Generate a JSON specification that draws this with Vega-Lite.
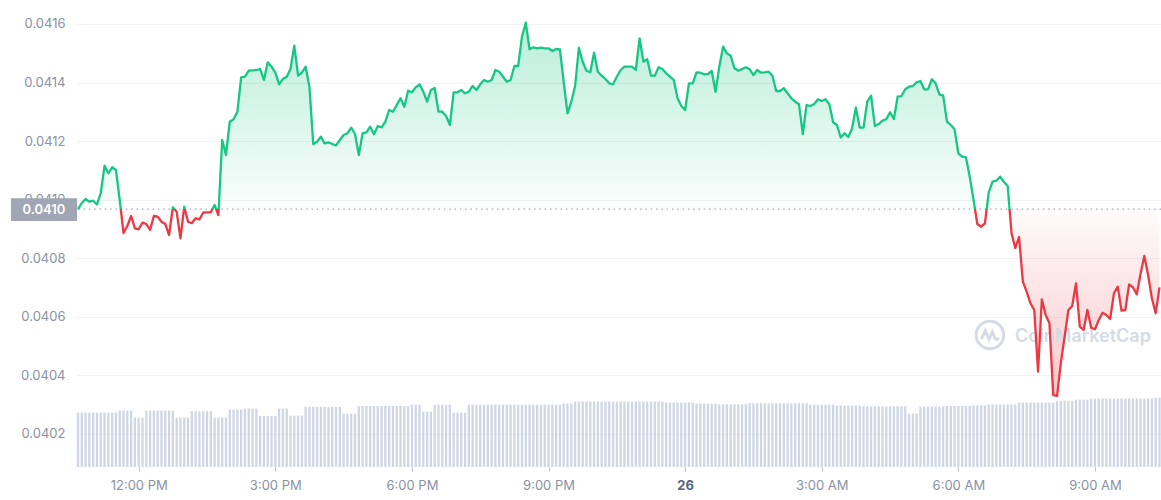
{
  "$schema": "https://vega.github.io/schema/vega-lite/v6.json",
  "width": 1084,
  "height": 467,
  "autosize": {"type": "none"},
  "padding": {"left": 77, "top": 0, "right": 0, "bottom": 33},
  "background": "white",
  "config": {
    "view": {"stroke": null},
    "font": "Inter",
    "scale": {"continuousPadding": 0},
    "axis": {"labelFont": "Inter", "labelFontSize": 13, "title": null}
  },
  "data": {"values": [
{"t":"2024-01-25T10:40","p":0.040968,"v":4.66},
{"t":"2024-01-25T10:45","p":0.0409888,"v":4.66},
{"t":"2024-01-25T10:50","p":0.0410024,"v":4.66},
{"t":"2024-01-25T10:55","p":0.0409932,"v":4.66},
{"t":"2024-01-25T11:00","p":0.0409966,"v":4.66},
{"t":"2024-01-25T11:05","p":0.0409836,"v":4.66},
{"t":"2024-01-25T11:10","p":0.0410229,"v":4.66},
{"t":"2024-01-25T11:15","p":0.0411161,"v":4.66},
{"t":"2024-01-25T11:20","p":0.0410902,"v":4.66},
{"t":"2024-01-25T11:25","p":0.0411107,"v":4.66},
{"t":"2024-01-25T11:30","p":0.0411015,"v":4.66},
{"t":"2024-01-25T11:35","p":0.0409990,"v":4.83},
{"t":"2024-01-25T11:40","p":0.0408863,"v":4.83},
{"t":"2024-01-25T11:45","p":0.0409102,"v":4.83},
{"t":"2024-01-25T11:50","p":0.0409444,"v":4.83},
{"t":"2024-01-25T11:55","p":0.0409024,"v":4.23},
{"t":"2024-01-25T12:00","p":0.0408990,"v":4.23},
{"t":"2024-01-25T12:05","p":0.0409215,"v":4.23},
{"t":"2024-01-25T12:10","p":0.0409171,"v":4.83},
{"t":"2024-01-25T12:15","p":0.0408966,"v":4.83},
{"t":"2024-01-25T12:20","p":0.0409444,"v":4.83},
{"t":"2024-01-25T12:25","p":0.0409420,"v":4.83},
{"t":"2024-01-25T12:30","p":0.0409249,"v":4.83},
{"t":"2024-01-25T12:35","p":0.0409171,"v":4.83},
{"t":"2024-01-25T12:40","p":0.0408795,"v":4.83},
{"t":"2024-01-25T12:45","p":0.0409741,"v":4.83},
{"t":"2024-01-25T12:50","p":0.0409591,"v":4.23},
{"t":"2024-01-25T12:55","p":0.0408682,"v":4.23},
{"t":"2024-01-25T13:00","p":0.0409761,"v":4.23},
{"t":"2024-01-25T13:05","p":0.0409249,"v":4.23},
{"t":"2024-01-25T13:10","p":0.0409195,"v":4.78},
{"t":"2024-01-25T13:15","p":0.0409365,"v":4.78},
{"t":"2024-01-25T13:20","p":0.0409331,"v":4.78},
{"t":"2024-01-25T13:25","p":0.0409556,"v":4.78},
{"t":"2024-01-25T13:30","p":0.0409570,"v":4.78},
{"t":"2024-01-25T13:35","p":0.0409570,"v":4.78},
{"t":"2024-01-25T13:40","p":0.0409819,"v":4.23},
{"t":"2024-01-25T13:45","p":0.0409478,"v":4.23},
{"t":"2024-01-25T13:50","p":0.0412039,"v":4.23},
{"t":"2024-01-25T13:55","p":0.0411527,"v":4.23},
{"t":"2024-01-25T14:00","p":0.0412664,"v":4.92},
{"t":"2024-01-25T14:05","p":0.0412746,"v":4.92},
{"t":"2024-01-25T14:10","p":0.0413005,"v":4.92},
{"t":"2024-01-25T14:15","p":0.0414180,"v":4.92},
{"t":"2024-01-25T14:20","p":0.0414200,"v":5.00},
{"t":"2024-01-25T14:25","p":0.0414405,"v":5.00},
{"t":"2024-01-25T14:30","p":0.0414419,"v":5.00},
{"t":"2024-01-25T14:35","p":0.0414429,"v":5.00},
{"t":"2024-01-25T14:40","p":0.0414463,"v":4.37},
{"t":"2024-01-25T14:45","p":0.0414088,"v":4.37},
{"t":"2024-01-25T14:50","p":0.0414692,"v":4.37},
{"t":"2024-01-25T14:55","p":0.0414542,"v":4.37},
{"t":"2024-01-25T15:00","p":0.0414337,"v":4.37},
{"t":"2024-01-25T15:05","p":0.0413941,"v":5.00},
{"t":"2024-01-25T15:10","p":0.0414122,"v":5.00},
{"t":"2024-01-25T15:15","p":0.0414200,"v":5.00},
{"t":"2024-01-25T15:20","p":0.0414463,"v":4.40},
{"t":"2024-01-25T15:25","p":0.0415259,"v":4.40},
{"t":"2024-01-25T15:30","p":0.0414241,"v":4.40},
{"t":"2024-01-25T15:35","p":0.0414337,"v":4.40},
{"t":"2024-01-25T15:40","p":0.0414542,"v":5.14},
{"t":"2024-01-25T15:45","p":0.0413839,"v":5.14},
{"t":"2024-01-25T15:50","p":0.0411902,"v":5.14},
{"t":"2024-01-25T15:55","p":0.0411981,"v":5.14},
{"t":"2024-01-25T16:00","p":0.0412152,"v":5.14},
{"t":"2024-01-25T16:05","p":0.0411926,"v":5.14},
{"t":"2024-01-25T16:10","p":0.0411960,"v":5.14},
{"t":"2024-01-25T16:15","p":0.0411902,"v":5.14},
{"t":"2024-01-25T16:20","p":0.0411858,"v":5.14},
{"t":"2024-01-25T16:25","p":0.0412039,"v":5.14},
{"t":"2024-01-25T16:30","p":0.0412210,"v":4.57},
{"t":"2024-01-25T16:35","p":0.0412268,"v":4.57},
{"t":"2024-01-25T16:40","p":0.0412459,"v":4.57},
{"t":"2024-01-25T16:45","p":0.0412244,"v":4.57},
{"t":"2024-01-25T16:50","p":0.0411527,"v":5.22},
{"t":"2024-01-25T16:55","p":0.0412268,"v":5.22},
{"t":"2024-01-25T17:00","p":0.0412302,"v":5.22},
{"t":"2024-01-25T17:05","p":0.0412493,"v":5.22},
{"t":"2024-01-25T17:10","p":0.0412234,"v":5.22},
{"t":"2024-01-25T17:15","p":0.0412517,"v":5.22},
{"t":"2024-01-25T17:20","p":0.0412473,"v":5.22},
{"t":"2024-01-25T17:25","p":0.0412664,"v":5.22},
{"t":"2024-01-25T17:30","p":0.0413063,"v":5.22},
{"t":"2024-01-25T17:35","p":0.0413005,"v":5.22},
{"t":"2024-01-25T17:40","p":0.0413234,"v":5.22},
{"t":"2024-01-25T17:45","p":0.0413463,"v":5.22},
{"t":"2024-01-25T17:50","p":0.0413176,"v":5.22},
{"t":"2024-01-25T17:55","p":0.0413722,"v":5.22},
{"t":"2024-01-25T18:00","p":0.0413668,"v":5.34},
{"t":"2024-01-25T18:05","p":0.0413839,"v":5.34},
{"t":"2024-01-25T18:10","p":0.0413941,"v":5.34},
{"t":"2024-01-25T18:15","p":0.0413688,"v":4.74},
{"t":"2024-01-25T18:20","p":0.0413347,"v":4.74},
{"t":"2024-01-25T18:25","p":0.0413746,"v":4.74},
{"t":"2024-01-25T18:30","p":0.0413815,"v":5.34},
{"t":"2024-01-25T18:35","p":0.0413005,"v":5.34},
{"t":"2024-01-25T18:40","p":0.0413005,"v":5.34},
{"t":"2024-01-25T18:45","p":0.0412858,"v":5.34},
{"t":"2024-01-25T18:50","p":0.0412551,"v":5.34},
{"t":"2024-01-25T18:55","p":0.0413668,"v":4.66},
{"t":"2024-01-25T19:00","p":0.0413668,"v":4.66},
{"t":"2024-01-25T19:05","p":0.0413746,"v":4.66},
{"t":"2024-01-25T19:10","p":0.0413634,"v":4.66},
{"t":"2024-01-25T19:15","p":0.0413688,"v":5.34},
{"t":"2024-01-25T19:20","p":0.0413883,"v":5.34},
{"t":"2024-01-25T19:25","p":0.0413746,"v":5.34},
{"t":"2024-01-25T19:30","p":0.0413941,"v":5.34},
{"t":"2024-01-25T19:35","p":0.0414088,"v":5.34},
{"t":"2024-01-25T19:40","p":0.0414030,"v":5.34},
{"t":"2024-01-25T19:45","p":0.0414088,"v":5.34},
{"t":"2024-01-25T19:50","p":0.0414429,"v":5.34},
{"t":"2024-01-25T19:55","p":0.0414371,"v":5.34},
{"t":"2024-01-25T20:00","p":0.0414200,"v":5.34},
{"t":"2024-01-25T20:05","p":0.0414030,"v":5.34},
{"t":"2024-01-25T20:10","p":0.0414088,"v":5.34},
{"t":"2024-01-25T20:15","p":0.0414566,"v":5.34},
{"t":"2024-01-25T20:20","p":0.0414566,"v":5.34},
{"t":"2024-01-25T20:25","p":0.0415566,"v":5.34},
{"t":"2024-01-25T20:30","p":0.0416044,"v":5.34},
{"t":"2024-01-25T20:35","p":0.0415136,"v":5.34},
{"t":"2024-01-25T20:40","p":0.0415204,"v":5.34},
{"t":"2024-01-25T20:45","p":0.0415170,"v":5.34},
{"t":"2024-01-25T20:50","p":0.0415191,"v":5.34},
{"t":"2024-01-25T20:55","p":0.0415170,"v":5.34},
{"t":"2024-01-25T21:00","p":0.0415170,"v":5.34},
{"t":"2024-01-25T21:05","p":0.0415078,"v":5.34},
{"t":"2024-01-25T21:10","p":0.0415146,"v":5.34},
{"t":"2024-01-25T21:15","p":0.0415136,"v":5.34},
{"t":"2024-01-25T21:20","p":0.0414019,"v":5.43},
{"t":"2024-01-25T21:25","p":0.0412951,"v":5.43},
{"t":"2024-01-25T21:30","p":0.0413347,"v":5.43},
{"t":"2024-01-25T21:35","p":0.0413883,"v":5.60},
{"t":"2024-01-25T21:40","p":0.0415191,"v":5.60},
{"t":"2024-01-25T21:45","p":0.0414713,"v":5.60},
{"t":"2024-01-25T21:50","p":0.0414405,"v":5.60},
{"t":"2024-01-25T21:55","p":0.0414351,"v":5.60},
{"t":"2024-01-25T22:00","p":0.0415020,"v":5.60},
{"t":"2024-01-25T22:05","p":0.0414371,"v":5.60},
{"t":"2024-01-25T22:10","p":0.0414235,"v":5.60},
{"t":"2024-01-25T22:15","p":0.0414122,"v":5.60},
{"t":"2024-01-25T22:20","p":0.0413975,"v":5.60},
{"t":"2024-01-25T22:25","p":0.0413941,"v":5.60},
{"t":"2024-01-25T22:30","p":0.0414200,"v":5.60},
{"t":"2024-01-25T22:35","p":0.0414429,"v":5.60},
{"t":"2024-01-25T22:40","p":0.0414542,"v":5.60},
{"t":"2024-01-25T22:45","p":0.0414542,"v":5.60},
{"t":"2024-01-25T22:50","p":0.0414542,"v":5.60},
{"t":"2024-01-25T22:55","p":0.0414429,"v":5.60},
{"t":"2024-01-25T23:00","p":0.0415512,"v":5.60},
{"t":"2024-01-25T23:05","p":0.0414713,"v":5.60},
{"t":"2024-01-25T23:10","p":0.0414795,"v":5.60},
{"t":"2024-01-25T23:15","p":0.0414235,"v":5.60},
{"t":"2024-01-25T23:20","p":0.0414235,"v":5.60},
{"t":"2024-01-25T23:25","p":0.0414521,"v":5.60},
{"t":"2024-01-25T23:30","p":0.0414463,"v":5.60},
{"t":"2024-01-25T23:35","p":0.0414317,"v":5.52},
{"t":"2024-01-25T23:40","p":0.0414200,"v":5.52},
{"t":"2024-01-25T23:45","p":0.0414088,"v":5.52},
{"t":"2024-01-25T23:50","p":0.0413463,"v":5.52},
{"t":"2024-01-25T23:55","p":0.0413200,"v":5.52},
{"t":"2024-01-26T00:00","p":0.0413063,"v":5.52},
{"t":"2024-01-26T00:05","p":0.0413975,"v":5.52},
{"t":"2024-01-26T00:10","p":0.0413975,"v":5.52},
{"t":"2024-01-26T00:15","p":0.0414351,"v":5.43},
{"t":"2024-01-26T00:20","p":0.0414337,"v":5.43},
{"t":"2024-01-26T00:25","p":0.0414282,"v":5.43},
{"t":"2024-01-26T00:30","p":0.0414293,"v":5.43},
{"t":"2024-01-26T00:35","p":0.0414395,"v":5.43},
{"t":"2024-01-26T00:40","p":0.0413688,"v":5.43},
{"t":"2024-01-26T00:45","p":0.0414542,"v":5.37},
{"t":"2024-01-26T00:50","p":0.0415225,"v":5.37},
{"t":"2024-01-26T00:55","p":0.0414999,"v":5.37},
{"t":"2024-01-26T01:00","p":0.0414917,"v":5.37},
{"t":"2024-01-26T01:05","p":0.0414487,"v":5.37},
{"t":"2024-01-26T01:10","p":0.0414405,"v":5.37},
{"t":"2024-01-26T01:15","p":0.0414463,"v":5.37},
{"t":"2024-01-26T01:20","p":0.0414521,"v":5.37},
{"t":"2024-01-26T01:25","p":0.0414453,"v":5.46},
{"t":"2024-01-26T01:30","p":0.0414258,"v":5.46},
{"t":"2024-01-26T01:35","p":0.0414429,"v":5.46},
{"t":"2024-01-26T01:40","p":0.0414337,"v":5.46},
{"t":"2024-01-26T01:45","p":0.0414351,"v":5.46},
{"t":"2024-01-26T01:50","p":0.0414371,"v":5.46},
{"t":"2024-01-26T01:55","p":0.0414235,"v":5.46},
{"t":"2024-01-26T02:00","p":0.0413712,"v":5.46},
{"t":"2024-01-26T02:05","p":0.0413712,"v":5.46},
{"t":"2024-01-26T02:10","p":0.0413804,"v":5.46},
{"t":"2024-01-26T02:15","p":0.0413634,"v":5.46},
{"t":"2024-01-26T02:20","p":0.0413463,"v":5.46},
{"t":"2024-01-26T02:25","p":0.0413347,"v":5.46},
{"t":"2024-01-26T02:30","p":0.0413258,"v":5.46},
{"t":"2024-01-26T02:35","p":0.0412244,"v":5.46},
{"t":"2024-01-26T02:40","p":0.0413234,"v":5.46},
{"t":"2024-01-26T02:45","p":0.0413200,"v":5.34},
{"t":"2024-01-26T02:50","p":0.0413268,"v":5.34},
{"t":"2024-01-26T02:55","p":0.0413429,"v":5.34},
{"t":"2024-01-26T03:00","p":0.0413371,"v":5.34},
{"t":"2024-01-26T03:05","p":0.0413429,"v":5.34},
{"t":"2024-01-26T03:10","p":0.0413258,"v":5.34},
{"t":"2024-01-26T03:15","p":0.0412643,"v":5.34},
{"t":"2024-01-26T03:20","p":0.0412551,"v":5.26},
{"t":"2024-01-26T03:25","p":0.0412124,"v":5.26},
{"t":"2024-01-26T03:30","p":0.0412268,"v":5.26},
{"t":"2024-01-26T03:35","p":0.0412141,"v":5.26},
{"t":"2024-01-26T03:40","p":0.0412438,"v":5.26},
{"t":"2024-01-26T03:45","p":0.0413149,"v":5.26},
{"t":"2024-01-26T03:50","p":0.0412466,"v":5.26},
{"t":"2024-01-26T03:55","p":0.0412459,"v":5.20},
{"t":"2024-01-26T04:00","p":0.0413347,"v":5.20},
{"t":"2024-01-26T04:05","p":0.0413552,"v":5.20},
{"t":"2024-01-26T04:10","p":0.0412517,"v":5.20},
{"t":"2024-01-26T04:15","p":0.0412585,"v":5.20},
{"t":"2024-01-26T04:20","p":0.0412698,"v":5.20},
{"t":"2024-01-26T04:25","p":0.0412746,"v":5.20},
{"t":"2024-01-26T04:30","p":0.0412985,"v":5.20},
{"t":"2024-01-26T04:35","p":0.0412756,"v":5.20},
{"t":"2024-01-26T04:40","p":0.0413518,"v":5.20},
{"t":"2024-01-26T04:45","p":0.0413541,"v":5.20},
{"t":"2024-01-26T04:50","p":0.0413770,"v":5.20},
{"t":"2024-01-26T04:55","p":0.0413859,"v":4.57},
{"t":"2024-01-26T05:00","p":0.0413883,"v":4.57},
{"t":"2024-01-26T05:05","p":0.0414009,"v":4.57},
{"t":"2024-01-26T05:10","p":0.0414054,"v":5.18},
{"t":"2024-01-26T05:15","p":0.0413770,"v":5.18},
{"t":"2024-01-26T05:20","p":0.0413770,"v":5.18},
{"t":"2024-01-26T05:25","p":0.0414112,"v":5.18},
{"t":"2024-01-26T05:30","p":0.0413975,"v":5.18},
{"t":"2024-01-26T05:35","p":0.0413599,"v":5.18},
{"t":"2024-01-26T05:40","p":0.0413552,"v":5.18},
{"t":"2024-01-26T05:45","p":0.0412664,"v":5.23},
{"t":"2024-01-26T05:50","p":0.0412551,"v":5.23},
{"t":"2024-01-26T05:55","p":0.0412404,"v":5.23},
{"t":"2024-01-26T06:00","p":0.0411585,"v":5.23},
{"t":"2024-01-26T06:05","p":0.0411469,"v":5.23},
{"t":"2024-01-26T06:10","p":0.0411448,"v":5.23},
{"t":"2024-01-26T06:15","p":0.0410786,"v":5.23},
{"t":"2024-01-26T06:20","p":0.0409990,"v":5.28},
{"t":"2024-01-26T06:25","p":0.0409171,"v":5.28},
{"t":"2024-01-26T06:30","p":0.0409078,"v":5.28},
{"t":"2024-01-26T06:35","p":0.0409195,"v":5.28},
{"t":"2024-01-26T06:40","p":0.0410239,"v":5.35},
{"t":"2024-01-26T06:45","p":0.0410615,"v":5.35},
{"t":"2024-01-26T06:50","p":0.0410649,"v":5.35},
{"t":"2024-01-26T06:55","p":0.0410786,"v":5.35},
{"t":"2024-01-26T07:00","p":0.0410615,"v":5.35},
{"t":"2024-01-26T07:05","p":0.0410468,"v":5.35},
{"t":"2024-01-26T07:10","p":0.0408863,"v":5.35},
{"t":"2024-01-26T07:15","p":0.0408351,"v":5.35},
{"t":"2024-01-26T07:20","p":0.0408727,"v":5.52},
{"t":"2024-01-26T07:25","p":0.0407200,"v":5.52},
{"t":"2024-01-26T07:30","p":0.0406859,"v":5.52},
{"t":"2024-01-26T07:35","p":0.0406463,"v":5.52},
{"t":"2024-01-26T07:40","p":0.0406234,"v":5.52},
{"t":"2024-01-26T07:45","p":0.0404127,"v":5.52},
{"t":"2024-01-26T07:50","p":0.0406599,"v":5.52},
{"t":"2024-01-26T07:55","p":0.0406063,"v":5.52},
{"t":"2024-01-26T08:00","p":0.0405780,"v":5.52},
{"t":"2024-01-26T08:05","p":0.0403331,"v":5.52},
{"t":"2024-01-26T08:10","p":0.0403297,"v":5.67},
{"t":"2024-01-26T08:15","p":0.0404414,"v":5.67},
{"t":"2024-01-26T08:20","p":0.0405322,"v":5.67},
{"t":"2024-01-26T08:25","p":0.0406234,"v":5.67},
{"t":"2024-01-26T08:30","p":0.0406371,"v":5.67},
{"t":"2024-01-26T08:35","p":0.0407146,"v":5.77},
{"t":"2024-01-26T08:40","p":0.0405664,"v":5.77},
{"t":"2024-01-26T08:45","p":0.0405551,"v":5.77},
{"t":"2024-01-26T08:50","p":0.0406234,"v":5.77},
{"t":"2024-01-26T08:55","p":0.0405630,"v":5.86},
{"t":"2024-01-26T09:00","p":0.0405575,"v":5.86},
{"t":"2024-01-26T09:05","p":0.0405893,"v":5.86},
{"t":"2024-01-26T09:10","p":0.0406142,"v":5.86},
{"t":"2024-01-26T09:15","p":0.0406063,"v":5.86},
{"t":"2024-01-26T09:20","p":0.0405927,"v":5.86},
{"t":"2024-01-26T09:25","p":0.0406804,"v":5.86},
{"t":"2024-01-26T09:30","p":0.0407030,"v":5.86},
{"t":"2024-01-26T09:35","p":0.0406210,"v":5.86},
{"t":"2024-01-26T09:40","p":0.0406234,"v":5.86},
{"t":"2024-01-26T09:45","p":0.0407112,"v":5.86},
{"t":"2024-01-26T09:50","p":0.0407009,"v":5.86},
{"t":"2024-01-26T09:55","p":0.0406770,"v":5.86},
{"t":"2024-01-26T10:00","p":0.0407463,"v":5.86},
{"t":"2024-01-26T10:05","p":0.0408078,"v":5.86},
{"t":"2024-01-26T10:10","p":0.0407429,"v":5.86},
{"t":"2024-01-26T10:15","p":0.0406633,"v":5.86},
{"t":"2024-01-26T10:20","p":0.0406121,"v":5.94},
{"t":"2024-01-26T10:25","p":0.0407009,"v":5.94}
  ]},
  "resolve": {"scale": {"y": "independent"}},
  "layer": [
    {
      "mark": {"type": "bar", "size": 2.3, "color": "#cfd6e4"},
      "encoding": {
        "x": {
          "field": "t", "type": "temporal", "title": null,
          "scale": {"padding": 0, "domain": [
            {"year": 2024, "month": 1, "date": 25, "hours": 10, "minutes": 38, "seconds": 42},
            {"year": 2024, "month": 1, "date": 26, "hours": 10, "minutes": 27}
          ]},
          "axis": {
            "values": [
              {"year": 2024, "month": 1, "date": 25, "hours": 12},
              {"year": 2024, "month": 1, "date": 25, "hours": 15},
              {"year": 2024, "month": 1, "date": 25, "hours": 18},
              {"year": 2024, "month": 1, "date": 25, "hours": 21},
              {"year": 2024, "month": 1, "date": 26, "hours": 0},
              {"year": 2024, "month": 1, "date": 26, "hours": 3},
              {"year": 2024, "month": 1, "date": 26, "hours": 6},
              {"year": 2024, "month": 1, "date": 26, "hours": 9}
            ],
            "labelExpr": "hours(datum.value) == 0 ? timeFormat(datum.value, '%-d') : timeFormat(datum.value, '%-I:%M %p')",
            "labelFontWeight": {"condition": {"test": "hours(datum.value) == 0", "value": 700}, "value": 400},
            "labelColor": {"condition": {"test": "hours(datum.value) == 0", "value": "#58667e"}, "value": "#8a92a4"},
            "domain": false,
            "grid": false,
            "ticks": true,
            "tickSize": 4,
            "tickColor": "#b8bfcc",
            "labelPadding": 8,
            "labelFontSize": 13,
            "labelFlush": false
          }
        },
        "y": {"field": "v", "type": "quantitative", "scale": {"domain": [0, 40]}, "axis": null}
      }
    },
    {
      "layer": [
        {
          "mark": {
            "type": "area",
            "interpolate": "linear",
            "color": {
              "gradient": "linear", "x1": 0, "y1": 0, "x2": 0, "y2": 1,
              "stops": [
                {"offset": 0, "color": "rgba(22,199,132,0.30)"},
                {"offset": 0.4993, "color": "rgba(22,199,132,0.02)"},
                {"offset": 0.4993, "color": "rgba(234,57,67,0.02)"},
                {"offset": 1, "color": "rgba(234,57,67,0.28)"}
              ]
            }
          },
          "encoding": {
            "x": {"field": "t", "type": "temporal", "title": null},
            "y": {
              "field": "p", "type": "quantitative", "title": null,
              "scale": {"domain": [0.0400873, 0.04168195], "nice": false, "zero": false},
              "axis": {
                "values": [0.0402, 0.0404, 0.0406, 0.0408, 0.041, 0.0412, 0.0414, 0.0416],
                "format": ".4f",
                "grid": true,
                "gridColor": "#eff1f4",
                "ticks": false,
                "domain": false,
                "labelPadding": 12,
                "labelFontSize": 13,
                "labelColor": "#8a92a4"
              }
            },
            "y2": {"datum": 0.040968}
          }
        },
        {
          "data": {"values": [{}]},
          "mark": {"type": "rule", "strokeDash": [1.5, 3.8], "strokeWidth": 1.3, "color": "#a3a9b5"},
          "encoding": {"y": {"datum": 0.040968, "type": "quantitative", "title": null}}
        },
        {
          "data": {"values": [{}]},
          "mark": {"type": "point", "shape": "circle", "filled": false, "size": 760, "strokeWidth": 3, "color": "#d5dbe6", "opacity": 1},
          "encoding": {
            "x": {"datum": {"year": 2024, "month": 1, "date": 26, "hours": 6, "minutes": 41, "seconds": 36}, "type": "temporal", "title": null},
            "y": {"datum": 0.040538, "type": "quantitative", "title": null}
          }
        },
        {
          "data": {"values": [{}]},
          "mark": {"type": "point", "shape": "M-0.62,0.3L-0.34,-0.3L-0.07,0.3L0.18,-0.24L0.36,0.22C0.42,0.36 0.56,0.36 0.66,0.2", "filled": false, "size": 760, "strokeWidth": 3, "color": "#d5dbe6", "opacity": 1},
          "encoding": {
            "x": {"datum": {"year": 2024, "month": 1, "date": 26, "hours": 6, "minutes": 41, "seconds": 36}, "type": "temporal", "title": null},
            "y": {"datum": 0.040538, "type": "quantitative", "title": null}
          }
        },
        {
          "data": {"values": [{}]},
          "mark": {"type": "text", "align": "left", "baseline": "middle", "fontSize": 18, "fontWeight": 600, "font": "Inter", "color": "#d5dbe6"},
          "encoding": {
            "x": {"datum": {"year": 2024, "month": 1, "date": 26, "hours": 7, "minutes": 14, "seconds": 30}, "type": "temporal", "title": null},
            "y": {"datum": 0.0405322, "type": "quantitative", "title": null},
            "text": {"datum": "CoinMarketCap"}
          }
        },
        {
          "mark": {
            "type": "line",
            "interpolate": "linear",
            "strokeWidth": 2.3,
            "strokeJoin": "round",
            "color": {
              "gradient": "linear", "x1": 0, "y1": 0, "x2": 0, "y2": 1,
              "stops": [
                {"offset": 0, "color": "#16c784"},
                {"offset": 0.4993, "color": "#16c784"},
                {"offset": 0.4993, "color": "#ea3943"},
                {"offset": 1, "color": "#ea3943"}
              ]
            }
          },
          "encoding": {
            "x": {"field": "t", "type": "temporal", "title": null},
            "y": {"field": "p", "type": "quantitative", "title": null}
          }
        },
        {
          "data": {"values": [{}]},
          "mark": {"type": "rect", "color": "#a0a6b3"},
          "encoding": {
            "x": {"datum": {"year": 2024, "month": 1, "date": 25, "hours": 9, "minutes": 11, "seconds": 44}, "type": "temporal", "title": null},
            "x2": {"datum": {"year": 2024, "month": 1, "date": 25, "hours": 10, "minutes": 38, "seconds": 42}},
            "y": {"datum": 0.0410048, "type": "quantitative", "title": null},
            "y2": {"datum": 0.0409273}
          }
        },
        {
          "data": {"values": [{}]},
          "mark": {"type": "text", "align": "center", "baseline": "middle", "fontSize": 13, "fontWeight": 600, "font": "Inter", "color": "#ffffff"},
          "encoding": {
            "x": {"datum": {"year": 2024, "month": 1, "date": 25, "hours": 9, "minutes": 55, "seconds": 13}, "type": "temporal", "title": null},
            "y": {"datum": 0.04096605, "type": "quantitative", "title": null},
            "text": {"datum": 0.040968, "type": "quantitative", "format": ".4f"}
          }
        }
      ]
    }
  ]
}
